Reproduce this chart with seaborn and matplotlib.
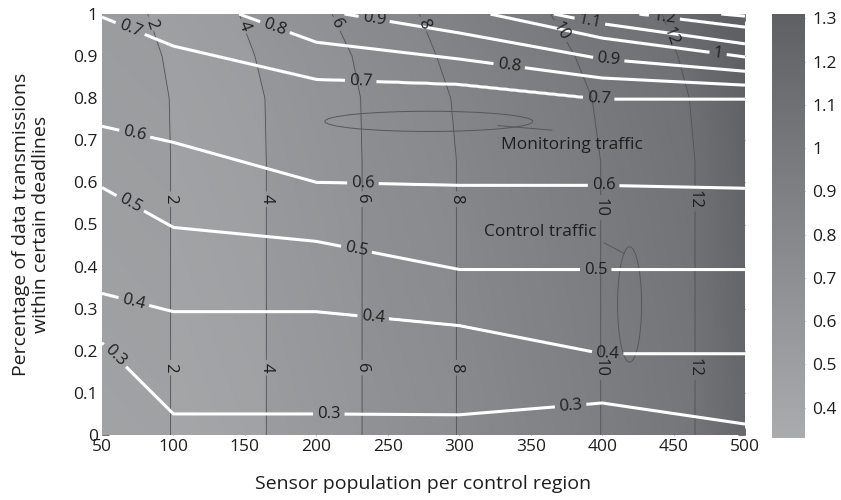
import numpy as np
import matplotlib
matplotlib.use("Agg")
import matplotlib.pyplot as plt
from matplotlib.patches import Ellipse
import seaborn as sns

# Sensor population per control region (measurement columns)
population = [50, 100, 200, 300, 400, 500]

# Monitoring traffic levels and, per level, the share of transmissions
# within deadline reached at each population column
monitor_levels = [0.3, 0.4, 0.5, 0.6, 0.7, 0.8, 0.9, 1.0, 1.1, 1.2, 1.3]
monitor_share = [
    [0.219, 0.050, 0.050, 0.048, 0.076, 0.026],  # 0.3
    [0.336, 0.293, 0.293, 0.260, 0.193, 0.193],  # 0.4
    [0.588, 0.493, 0.460, 0.393, 0.393, 0.393],  # 0.5
    [0.733, 0.695, 0.600, 0.593, 0.593, 0.586],  # 0.6
    [0.993, 0.924, 0.845, 0.833, 0.798, 0.798],  # 0.7
    [1.100, 1.057, 0.933, 0.893, 0.848, 0.831],  # 0.8
    [1.200, 1.150, 1.011, 0.955, 0.893, 0.864],  # 0.9
    [1.300, 1.250, 1.100, 1.016, 0.943, 0.898],  # 1.0
    [1.400, 1.350, 1.200, 1.045, 0.977, 0.929],  # 1.1
    [1.500, 1.450, 1.300, 1.100, 1.011, 0.969],  # 1.2
    [1.600, 1.550, 1.400, 1.150, 1.025, 0.995],  # 1.3
]

# Control traffic levels and the population at which each level is reached,
# sampled at several shares of transmissions
control_levels = [2, 4, 6, 8, 10, 12]
control_rows = [0.0, 0.65, 0.8, 0.9, 1.0]
control_population = [
    [98, 98, 97, 92, 82],
    [165, 165, 164, 157, 146],
    [232, 232, 231, 225, 211],
    [298, 298, 294, 284, 272],
    [399, 399, 393, 381, 364],
    [465, 465, 461, 453, 442],
]

# Shading of the surface as a function of control traffic
shade_control = [0, 1.97, 2.03, 3.97, 4.03, 5.97, 6.03, 7.97, 8.03, 9.97, 10.03, 11.97, 12.03, 14]
shade_value = [0.44, 0.46, 0.40, 0.45, 0.53, 0.60, 0.66, 0.72, 0.76, 0.90, 0.92, 1.02, 1.05, 1.35]
shade_rise = 0.08  # darker towards the top

# Label anchor points (population, share)
monitor_label_pos = [
    (56.3, 0.179), (208.7, 0.048), (378, 0.067),
    (71.7, 0.31), (239.5, 0.271), (403.8, 0.19),
    (68.2, 0.54), (227.6, 0.433), (395.5, 0.393),
    (72.4, 0.707), (232.5, 0.59), (401, 0.59),
    (68.9, 0.96), (231, 0.833), (397.5, 0.797),
    (170, 0.96), (334.6, 0.869),
    (240, 0.98), (404.5, 0.888),
    (480.8, 0.898), (391, 0.976), (443, 0.983),
]
control_label_pos = [
    (98, 0.56), (165, 0.56), (232, 0.56), (298, 0.56), (399, 0.54), (465, 0.56),
    (98, 0.16), (165, 0.16), (232, 0.16), (298, 0.16), (399, 0.16), (465, 0.16),
    (84, 0.976), (149, 0.971), (214, 0.976), (275, 0.976), (370, 0.957), (447, 0.945),
]


def extend(pos, vals, lo, hi):
    """Linear extension of a monotone profile beyond its end points."""
    pos = np.asarray(pos, float)
    vals = np.asarray(vals, float)
    s0 = (vals[1] - vals[0]) / (pos[1] - pos[0])
    s1 = (vals[-1] - vals[-2]) / (pos[-1] - pos[-2])
    p = np.r_[lo, pos, hi]
    v = np.r_[vals[0] - s0 * (pos[0] - lo), vals, vals[-1] + s1 * (hi - pos[-1])]
    return p, v


xf = np.linspace(50, 500, 451)
yf = np.linspace(0, 1, 421)
X, Y = np.meshgrid(xf, yf)

# Monitoring traffic field
heights = np.array([np.interp(xf, population, row) for row in monitor_share])
Z = np.empty((yf.size, xf.size))
for j in range(xf.size):
    p, v = extend(heights[:, j], monitor_levels, -1.0, 3.0)
    Z[:, j] = np.interp(yf, p, v)

# Control traffic field
cpos = np.array([np.interp(yf, control_rows, row) for row in control_population])
C = np.empty_like(Z)
for i in range(yf.size):
    p, v = extend(cpos[:, i], control_levels, -200.0, 800.0)
    C[i, :] = np.interp(xf, p, v)

B = np.interp(C, shade_control, shade_value) + shade_rise * Y

sns.set_style("ticks")
plt.rcParams["font.family"] = ["Open Sans", "DejaVu Sans"]
txt = "#1e1e1e"

fig = plt.figure(figsize=(8.41, 5.0), dpi=100)
ax = fig.add_axes([0.1213, 0.13, 0.7646, 0.842])
cax = fig.add_axes([0.918, 0.124, 0.0392, 0.848])

cmap = sns.blend_palette(["#aaabad", "#5f6064"], as_cmap=True)
mesh = ax.pcolormesh(xf, yf, B, cmap=cmap, vmin=0.33, vmax=1.31,
                     shading="gouraud", rasterized=True)

cs_c = ax.contour(xf, yf, C, levels=control_levels, colors="#505256", linewidths=0.6)
ax.clabel(cs_c, fmt="%d", manual=control_label_pos, inline=True,
          inline_spacing=3, fontsize=12, colors=txt)

cs_m = ax.contour(xf, yf, Z, levels=monitor_levels, colors="white", linewidths=2.2)
ax.clabel(cs_m, fmt=lambda v: f"{v:g}", manual=monitor_label_pos, inline=True,
          inline_spacing=4, fontsize=12, colors=txt)

# Annotations
ax.add_patch(Ellipse((278.7, 0.745), 145.5, 0.048, fill=False, ec="#55575a", lw=0.7))
ax.plot([327, 365], [0.735, 0.724], color="#55575a", lw=0.7)
ax.text(329, 0.69, "Monitoring traffic", va="center", ha="left", fontsize=12.5, color=txt)
ax.add_patch(Ellipse((419.2, 0.31), 16.8, 0.274, fill=False, ec="#55575a", lw=0.7))
ax.plot([401, 415.7], [0.457, 0.431], color="#55575a", lw=0.7)
ax.text(317, 0.481, "Control traffic", va="center", ha="left", fontsize=12.5, color=txt)

ax.set_xlim(50, 500)
ax.set_ylim(0, 1)
ax.set_xticks(np.arange(50, 501, 50))
ax.set_yticks(np.round(np.arange(0, 1.01, 0.1), 1))
ax.set_yticklabels([f"{v:g}" for v in np.round(np.arange(0, 1.01, 0.1), 1)])
ax.tick_params(direction="in", top=True, right=True, length=5, width=0.6,
               color="#5a5a5a", labelsize=12.5, labelcolor=txt, pad=3)
for s in ax.spines.values():
    s.set_visible(False)
ax.set_xlabel("Sensor population per control region", fontsize=14, color=txt, labelpad=14)
ax.set_ylabel("Percentage of data transmissions\nwithin certain deadlines",
              fontsize=14, color=txt, labelpad=17, linespacing=1.15)

cb = fig.colorbar(mesh, cax=cax, ticks=[0.4, 0.5, 0.6, 0.7, 0.8, 0.9, 1.0, 1.1, 1.2, 1.3])
cb.ax.set_yticklabels([f"{v:g}" for v in [0.4, 0.5, 0.6, 0.7, 0.8, 0.9, 1.0, 1.1, 1.2, 1.3]])
cb.outline.set_visible(False)
cax.tick_params(direction="in", left=True, right=True, length=3, width=0.5,
                color="#6a6a6a", labelsize=12.5, labelcolor=txt, pad=5)

fig.savefig("out.png", dpi=100)
